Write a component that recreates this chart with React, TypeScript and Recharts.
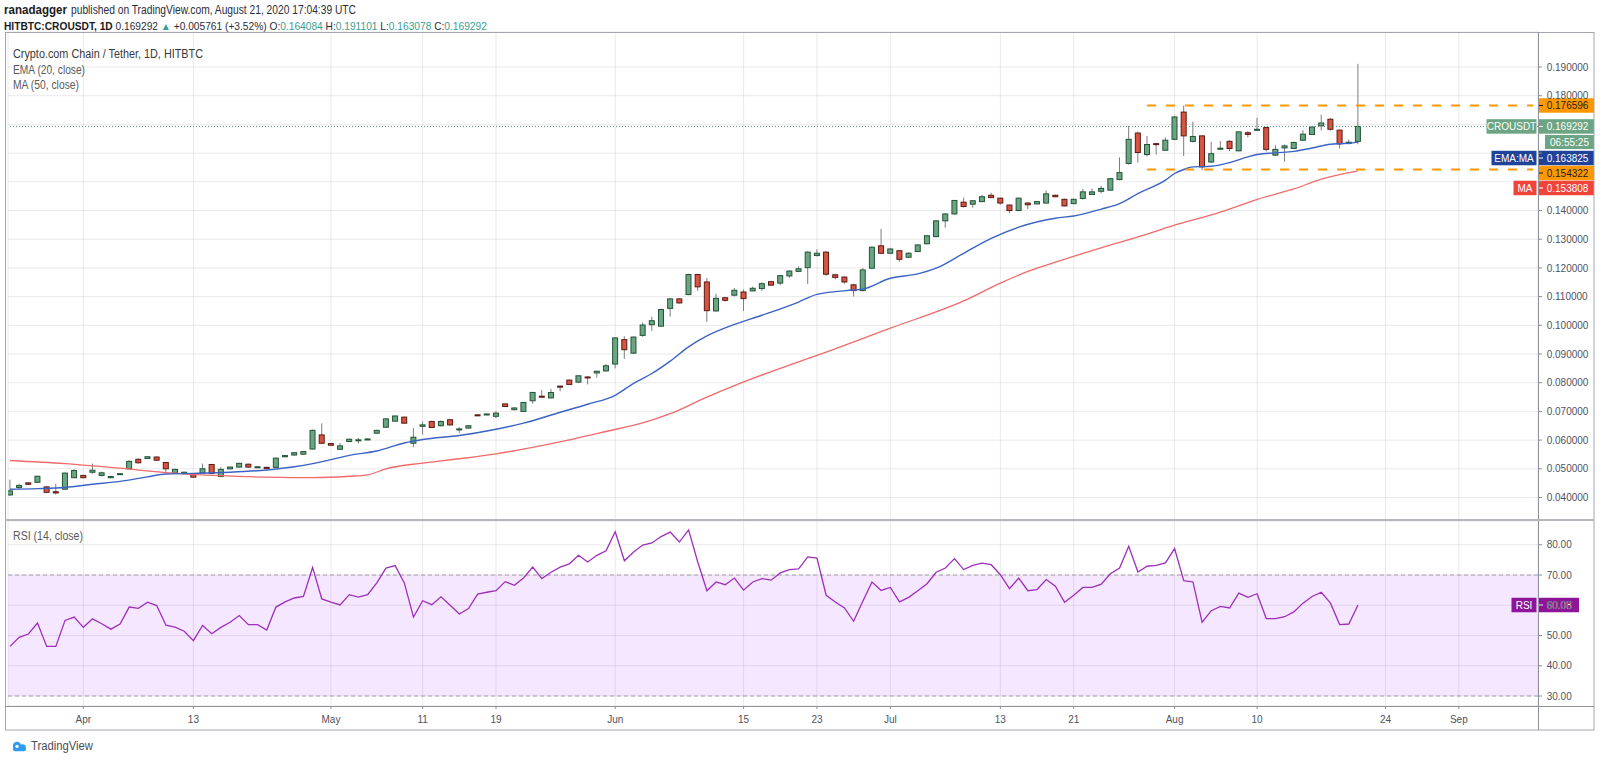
import React from 'react';
import {
  ComposedChart,
  Bar,
  Line,
  XAxis,
  YAxis,
  CartesianGrid,
  ReferenceLine,
  ReferenceArea,
} from 'recharts';

// ---------- DATA ----------
const OPEN = [
  0.0409, 0.0435, 0.0451, 0.0453, 0.0437, 0.042, 0.0429, 0.0469, 0.0477, 0.0488,
  0.0477, 0.0469, 0.048, 0.05, 0.0533, 0.0536, 0.0541, 0.0522, 0.0485, 0.0483,
  0.0483, 0.0485, 0.0515, 0.0473, 0.05, 0.0506, 0.0516, 0.0506, 0.0505, 0.0505,
  0.0542, 0.0548, 0.0551, 0.0569, 0.0618, 0.0588, 0.0568, 0.0595, 0.0598, 0.0602,
  0.0624, 0.0645, 0.0666, 0.068, 0.0589, 0.0648, 0.0665, 0.065, 0.0671, 0.0637,
  0.0642, 0.0688, 0.0689, 0.0683, 0.0726, 0.0706, 0.07, 0.0737, 0.0753, 0.0747,
  0.0788, 0.0809, 0.0802, 0.082, 0.0834, 0.0841, 0.0865, 0.095, 0.0903, 0.0965,
  0.1002, 0.0997, 0.1059, 0.1092, 0.1107, 0.1177, 0.1151, 0.105, 0.1096, 0.1105,
  0.1116, 0.112, 0.1128, 0.1152, 0.1147, 0.1172, 0.1188, 0.1201, 0.1243, 0.1255,
  0.1176, 0.1168, 0.1141, 0.1121, 0.1199, 0.1277, 0.1251, 0.126, 0.1237, 0.1257,
  0.1284, 0.1309, 0.1364, 0.1388, 0.1429, 0.1422, 0.1431, 0.1453, 0.1443, 0.1419,
  0.14, 0.1426, 0.1423, 0.1426, 0.1453, 0.1439, 0.1424, 0.1442, 0.1456, 0.1467,
  0.1471, 0.1508, 0.1564, 0.167, 0.1595, 0.1633, 0.161, 0.1648, 0.1743, 0.1641,
  0.166, 0.1569, 0.1615, 0.1641, 0.1608, 0.1671, 0.1681, 0.1689, 0.1593, 0.1618,
  0.1616, 0.1645, 0.1665, 0.1695, 0.1718, 0.168, 0.1634, 0.164084,
];
const HIGH = [
  0.0462, 0.0448, 0.0454, 0.0476, 0.044, 0.0448, 0.0487, 0.0499, 0.0479, 0.0518,
  0.049, 0.0476, 0.0485, 0.053, 0.0537, 0.0544, 0.0543, 0.0524, 0.05, 0.049,
  0.0485, 0.0518, 0.0517, 0.0506, 0.0508, 0.0521, 0.0518, 0.0509, 0.0507, 0.0539,
  0.0548, 0.0558, 0.0562, 0.0637, 0.0658, 0.059, 0.059, 0.0605, 0.0608, 0.0606,
  0.0636, 0.0676, 0.0686, 0.0682, 0.0642, 0.0665, 0.0668, 0.0668, 0.0673, 0.0645,
  0.0652, 0.069, 0.0692, 0.07, 0.0728, 0.0714, 0.0733, 0.0768, 0.0775, 0.0778,
  0.079, 0.0811, 0.0826, 0.0822, 0.0842, 0.0865, 0.0958, 0.0962, 0.0961, 0.101,
  0.103, 0.1058, 0.1095, 0.1094, 0.118, 0.1179, 0.1165, 0.111, 0.1099, 0.113,
  0.1125, 0.1135, 0.115, 0.1155, 0.1175, 0.1192, 0.1205, 0.1258, 0.1265, 0.1258,
  0.118, 0.1172, 0.1145, 0.12, 0.1275, 0.1336, 0.127, 0.1263, 0.1255, 0.1282,
  0.1314, 0.1366, 0.139, 0.1437, 0.1445, 0.1436, 0.1455, 0.1462, 0.1445, 0.1421,
  0.1445, 0.143, 0.1433, 0.147, 0.1456, 0.1441, 0.1441, 0.1475, 0.1477, 0.1485,
  0.1513, 0.1585, 0.1695, 0.1675, 0.166, 0.1636, 0.1655, 0.173, 0.1766, 0.171,
  0.1662, 0.164, 0.1642, 0.1645, 0.1676, 0.1677, 0.1723, 0.1691, 0.1627, 0.163,
  0.164, 0.168, 0.1692, 0.1734, 0.1722, 0.1682, 0.1647, 0.191101,
];
const LOW = [
  0.0405, 0.0427, 0.0444, 0.0451, 0.0416, 0.041, 0.0427, 0.0467, 0.0467, 0.0483,
  0.0473, 0.0467, 0.0479, 0.0498, 0.0518, 0.0534, 0.0528, 0.0485, 0.0483, 0.0481,
  0.0469, 0.0483, 0.0482, 0.0471, 0.0498, 0.0504, 0.0504, 0.0504, 0.0502, 0.0503,
  0.054, 0.0546, 0.0549, 0.0567, 0.0586, 0.058, 0.0566, 0.0593, 0.0588, 0.06,
  0.0622, 0.0643, 0.0664, 0.0657, 0.0575, 0.0619, 0.0642, 0.0648, 0.065, 0.0625,
  0.064, 0.0685, 0.0687, 0.0677, 0.0715, 0.0704, 0.0698, 0.0727, 0.0748, 0.0745,
  0.077, 0.0792, 0.08, 0.0794, 0.0818, 0.0839, 0.085, 0.0883, 0.09, 0.096,
  0.098, 0.0995, 0.103, 0.1076, 0.1105, 0.112, 0.1012, 0.1048, 0.1082, 0.11,
  0.105, 0.1118, 0.112, 0.1138, 0.114, 0.1165, 0.1185, 0.1144, 0.124, 0.1172,
  0.116, 0.1145, 0.11, 0.1118, 0.1195, 0.1248, 0.1248, 0.1222, 0.1235, 0.1255,
  0.1282, 0.1307, 0.134, 0.1386, 0.141, 0.141, 0.1429, 0.1443, 0.142, 0.139,
  0.1398, 0.1405, 0.1421, 0.1424, 0.1446, 0.1414, 0.1422, 0.1438, 0.1454, 0.146,
  0.1469, 0.1505, 0.156, 0.1567, 0.1588, 0.1595, 0.1608, 0.1646, 0.159, 0.1637,
  0.154, 0.1565, 0.1612, 0.1607, 0.1606, 0.1655, 0.1679, 0.1605, 0.159, 0.157,
  0.1614, 0.1643, 0.1663, 0.1679, 0.1678, 0.1616, 0.163, 0.163078,
];
const CLOSE = [
  0.0423, 0.0442, 0.0446, 0.0474, 0.0418, 0.0416, 0.0485, 0.0494, 0.0469, 0.0495,
  0.0486, 0.0473, 0.0483, 0.0526, 0.0521, 0.0542, 0.053, 0.05, 0.0498, 0.0488,
  0.0471, 0.05, 0.0484, 0.0498, 0.0506, 0.0519, 0.0506, 0.0507, 0.0503, 0.0537,
  0.0546, 0.0556, 0.056, 0.0634, 0.0589, 0.0582, 0.058, 0.0603, 0.0601, 0.0604,
  0.0634, 0.0674, 0.0684, 0.0659, 0.061, 0.0653, 0.0644, 0.0665, 0.0653, 0.0639,
  0.065, 0.0686, 0.0691, 0.0694, 0.0717, 0.0712, 0.0731, 0.0766, 0.0751, 0.0766,
  0.0786, 0.0794, 0.0824, 0.0818, 0.084, 0.0859, 0.0956, 0.0915, 0.0959, 0.1001,
  0.1016, 0.1055, 0.1092, 0.1078, 0.1177, 0.1134, 0.1051, 0.1094, 0.1087, 0.1122,
  0.1093, 0.1129, 0.1145, 0.114, 0.1173, 0.1189, 0.1197, 0.1255, 0.1251, 0.1178,
  0.1167, 0.1151, 0.1121, 0.1193, 0.1272, 0.1251, 0.1266, 0.123, 0.1251, 0.128,
  0.1312, 0.1364, 0.1388, 0.1435, 0.1414, 0.1434, 0.1448, 0.1445, 0.1426, 0.14,
  0.1443, 0.142, 0.1431, 0.1458, 0.1448, 0.1416, 0.1439, 0.1465, 0.1465, 0.1477,
  0.1511, 0.1532, 0.1648, 0.1602, 0.163, 0.163, 0.1645, 0.1726, 0.166, 0.1658,
  0.1552, 0.1598, 0.1617, 0.1616, 0.1674, 0.1665, 0.1683, 0.1613, 0.1613, 0.1625,
  0.1637, 0.1666, 0.1691, 0.1705, 0.1683, 0.1632, 0.1638, 0.169292,
];
// EMA(20) readings: [bar index, value]
const EMA_PTS: [number, number][] = [
  [0, 0.0429], [3, 0.0431], [6, 0.0435], [9, 0.0446], [12, 0.0456], [15, 0.0472],
  [17, 0.0482], [20, 0.0484], [24, 0.0488], [28, 0.0496], [31, 0.0507], [33, 0.0518],
  [35, 0.0532], [37, 0.0547], [40, 0.0562], [43, 0.059], [45, 0.0602], [49, 0.0616],
  [53, 0.0638], [56, 0.0659], [60, 0.0697], [63, 0.0725], [66, 0.0756], [68, 0.0798],
  [70, 0.0832], [72, 0.0875], [74, 0.0925], [76, 0.0963], [79, 0.1003], [82, 0.1035],
  [86, 0.1081], [88, 0.1108], [92, 0.1123], [93, 0.1126], [96, 0.1164], [99, 0.1179],
  [101, 0.1199], [104, 0.1251], [107, 0.1303], [110, 0.1342], [114, 0.1373], [116, 0.1381],
  [119, 0.1405], [121, 0.1424], [123, 0.1459], [126, 0.1506], [127, 0.1529], [128, 0.1543],
  [129, 0.1552], [131, 0.1554], [133, 0.1567], [135, 0.1587], [136, 0.1595], [138, 0.1601],
  [140, 0.1606], [142, 0.1618], [144, 0.1631], [145, 0.1633], [146, 0.1634], [147, 0.163825],
];
// MA(50) readings: [bar index, value]
const MA_PTS: [number, number][] = [
  [0, 0.0529], [6, 0.0518], [12, 0.0502], [17, 0.0487], [23, 0.0476], [28, 0.0471],
  [33, 0.0469], [37, 0.0474], [39, 0.0479], [41, 0.05], [45, 0.052], [49, 0.0535],
  [53, 0.0552], [57, 0.0575], [61, 0.0601], [65, 0.063], [69, 0.066], [72, 0.0692],
  [76, 0.075], [79, 0.079], [84, 0.085], [88, 0.0895], [96, 0.099], [104, 0.1085],
  [108, 0.1147], [111, 0.1188], [114, 0.122], [119, 0.127], [124, 0.1318], [127, 0.1349],
  [132, 0.1394], [136, 0.1439], [140, 0.1475], [143, 0.1509], [147, 0.153808],
];
const RSI = [
  46.4, 49.4, 50.5, 54.1, 46.4, 46.4, 55.0, 56.1, 52.7, 55.5,
  53.9, 52.1, 53.8, 59.4, 59.0, 61.0, 59.9, 53.4, 52.8, 51.4,
  48.3, 53.3, 50.6, 52.7, 54.4, 56.6, 53.6, 53.6, 51.8, 59.4,
  61.1, 62.4, 62.9, 72.5, 62.1, 61.0, 60.1, 63.5, 62.7, 63.5,
  67.4, 72.3, 73.1, 67.4, 56.1, 61.5, 60.2, 62.8, 60.0, 57.1,
  58.9, 63.7, 64.3, 64.8, 67.8, 66.6, 69.0, 72.6, 68.8, 70.9,
  72.6, 73.7, 76.5, 74.3, 76.5, 78.0, 84.3, 74.7, 77.6, 79.9,
  80.6, 82.7, 84.2, 80.9, 84.9, 74.3, 64.8, 67.7, 66.8, 69.0,
  65.0, 67.7, 68.8, 68.3, 70.7, 71.8, 72.0, 76.0, 75.6, 63.3,
  61.1, 59.1, 54.7, 61.3, 67.7, 64.9, 65.9, 61.1, 62.6, 64.8,
  67.1, 70.9, 72.3, 75.4, 71.8, 73.2, 73.9, 73.4, 70.1, 65.5,
  69.0, 64.8, 65.2, 68.5, 66.3, 61.0, 63.3, 65.9, 65.9, 67.0,
  70.4, 72.3, 79.5, 71.0, 72.9, 73.2, 74.0, 78.7, 68.1, 67.7,
  54.4, 58.2, 59.6, 59.1, 64.0, 62.6, 63.8, 55.6, 55.6, 56.2,
  57.8, 60.7, 62.9, 64.3, 60.7, 53.6, 53.8, 60.08,
];
const TICK_IDX = [8, 20, 35, 45, 53, 66, 80, 88, 96, 108, 116, 127, 136, 150, 158];
const TICK_LABELS = ['Apr', '13', 'May', '11', '19', 'Jun', '15', '23', 'Jul', '13', '21', 'Aug', '10', '24', 'Sep'];
const PRICE_TICKS = [0.04, 0.05, 0.06, 0.07, 0.08, 0.09, 0.1, 0.11, 0.12, 0.13, 0.14, 0.15, 0.16, 0.17, 0.18, 0.19];
const RSI_TICKS = [30, 40, 50, 60, 70, 80];
const RANGE_TOP = 0.176596;
const RANGE_BOTTOM = 0.154322;
const RANGE_START_IDX = 124;
const RANGE_END_IDX = 166.1;
const LAST_PRICE = 0.169292;
const LAST_EMA = 0.163825;
const LAST_MA = 0.153808;
const LAST_RSI = 60.08;

// ---------- build table ----------
const emaMap = new Map<number, number>(EMA_PTS);
const maMap = new Map<number, number>(MA_PTS);
const rows = OPEN.map((o, i) => ({
  i,
  o,
  h: HIGH[i],
  l: LOW[i],
  c: CLOSE[i],
  rsi: RSI[i],
  ema: emaMap.has(i) ? emaMap.get(i) : null,
  ma: maMap.has(i) ? maMap.get(i) : null,
}));

const FONT = '"Liberation Sans", Arial, sans-serif';
const UP = '#6ba583';
const UP_BORDER = '#225437';
const DOWN = '#d75442';
const DOWN_BORDER = '#5b1a13';
const WICK = '#7d7d80';
const AXIS_TEXT = '#50535e';
const GRID = 'rgba(0,0,0,0.085)';
const ORANGE = '#ff9800';
const X_DOMAIN: [number, number] = [-0.218, 166.63];

// ---------- shapes ----------
const Candle = (props: any) => {
  const { x, y, width, height } = props;
  const p = props.payload || props;
  const { o, h, l, c } = p;
  if (x == null || y == null) return null;
  const top = Math.min(y, y + height);
  const bot = Math.max(y, y + height);
  const span = h - l;
  const py = (v: number) => (span > 0 ? top + ((h - v) / span) * (bot - top) : top);
  const cx = x + width / 2;
  const up = c >= o;
  const yo = py(o);
  const yc = py(c);
  const bTop = Math.min(yo, yc);
  const bH = Math.max(Math.abs(yo - yc), 1);
  return (
    <g>
      <line x1={cx} x2={cx} y1={top} y2={bot} stroke={WICK} strokeWidth={1} />
      <rect
        x={cx - 2.5}
        y={bTop}
        width={5}
        height={bH}
        fill={up ? UP : DOWN}
        stroke={up ? UP_BORDER : DOWN_BORDER}
        strokeWidth={1}
      />
    </g>
  );
};

const TagLabel = (props: any) => {
  const { viewBox, text, bg, fg = '#fff', dy = 0, left, leftW = 0, boxW = 55, countdown } = props;
  if (!viewBox) return null;
  const xr = viewBox.x + viewBox.width;
  const cy = viewBox.y + dy;
  const h = 14.5;
  return (
    <g style={{ fontFamily: FONT }}>
      {left ? (
        <g>
          <rect x={xr - 1.5 - leftW} y={cy - h / 2} width={leftW} height={h} fill={bg} />
          <text x={xr - 1.5 - leftW / 2} y={cy + 3.6} textAnchor="middle" fontSize={10} fill={fg}>
            {left}
          </text>
        </g>
      ) : null}
      <rect x={xr + 1} y={cy - h / 2} width={boxW} height={h} fill={bg} />
      <line x1={xr + 1} x2={xr + 5} y1={cy} y2={cy} stroke={fg} strokeWidth={1} />
      <text x={xr + 8.7} y={cy + 3.6} fontSize={10} fill={fg}>
        {text}
      </text>
      {countdown ? (
        <g>
          <rect x={xr + 7} y={cy + 8.6} width={49} height={14} fill={bg} />
          <text x={xr + 31.5} y={cy + 19.2} textAnchor="middle" fontSize={10} fill={fg}>
            {countdown}
          </text>
        </g>
      ) : null}
    </g>
  );
};

const HIDDEN_PRICE_LABELS = new Set(['0.150000', '0.160000', '0.170000']);
const PriceTick = (props: any) => {
  const { x, y, payload } = props;
  const s = Number(payload.value).toFixed(6);
  if (HIDDEN_PRICE_LABELS.has(s)) return null;
  return (
    <text x={x} y={y + 3.6} fontSize={10} fill={AXIS_TEXT} style={{ fontFamily: FONT }}>
      {s}
    </text>
  );
};
const RsiTick = (props: any) => {
  const { x, y, payload } = props;
  return (
    <text x={x} y={y + 3.6} fontSize={10} fill={AXIS_TEXT} style={{ fontFamily: FONT }}>
      {Number(payload.value).toFixed(2)}
    </text>
  );
};
const TimeTick = (props: any) => {
  const { x, y, payload } = props;
  const k = TICK_IDX.indexOf(payload.value);
  return (
    <text x={x} y={y + 7.1} textAnchor="middle" fontSize={10} fill={AXIS_TEXT} style={{ fontFamily: FONT }}>
      {k >= 0 ? TICK_LABELS[k] : ''}
    </text>
  );
};

const T = (p: any) => (
  <text
    x={p.x}
    y={p.y}
    fontSize={p.size || 12}
    fill={p.fill || '#2a2e39'}
    fontWeight={p.weight || 'normal'}
    textLength={p.w}
    lengthAdjust="spacingAndGlyphs"
  >
    {p.children}
  </text>
);

export default function App() {
  const TEAL = '#3a9e8f';
  return (
    <div
      style={{
        position: 'absolute',
        left: 0,
        top: 0,
        width: 1600,
        height: 763,
        background: '#ffffff',
        fontFamily: FONT,
        overflow: 'hidden',
      }}
    >
      {/* main price pane */}
      <div style={{ position: 'absolute', left: 0, top: 0 }}>
        <ComposedChart
          width={1600}
          height={520}
          data={rows}
          margin={{ top: 32, right: 0, bottom: 0, left: 8 }}
        >
          <CartesianGrid stroke={GRID} strokeWidth={1} />
          <XAxis
            type="number"
            dataKey="i"
            domain={X_DOMAIN}
            ticks={TICK_IDX}
            allowDataOverflow
            hide
          />
          <YAxis
            orientation="right"
            width={62}
            domain={[0.03216, 0.2022]}
            ticks={PRICE_TICKS}
            allowDataOverflow
            axisLine={false}
            tickSize={4}
            tickMargin={4.7}
            tickLine={{ stroke: '#8a8d96' }}
            tick={<PriceTick />}
            interval={0}
          />
          <Line
            dataKey="ma"
            type="monotone"
            stroke="#f26a6a"
            strokeWidth={1.3}
            dot={false}
            connectNulls
            isAnimationActive={false}
          />
          <Line
            dataKey="ema"
            type="monotone"
            stroke="#3a63c4"
            strokeWidth={1.4}
            dot={false}
            connectNulls
            isAnimationActive={false}
          />
          <Bar
            dataKey={(d: any) => [d.l, d.h]}
            barSize={7}
            shape={(p: any) => <Candle {...p} />}
            isAnimationActive={false}
          />
          <ReferenceLine
            segment={[
              { x: RANGE_START_IDX, y: RANGE_TOP },
              { x: RANGE_END_IDX, y: RANGE_TOP },
            ]}
            stroke={ORANGE}
            strokeWidth={2}
            strokeDasharray="9 10"
          />
          <ReferenceLine
            segment={[
              { x: RANGE_START_IDX, y: RANGE_BOTTOM },
              { x: RANGE_END_IDX, y: RANGE_BOTTOM },
            ]}
            stroke={ORANGE}
            strokeWidth={2}
            strokeDasharray="9 10"
          />
          <ReferenceLine
            y={LAST_PRICE}
            stroke="#4f9a74"
            strokeDasharray="1 2"
            strokeWidth={1}
            label={<TagLabel text={LAST_PRICE.toFixed(6)} bg="#6ba583" left="CROUSDT" leftW={50} countdown="06:55:25" />}
          />
          <ReferenceLine
            y={RANGE_TOP}
            stroke="none"
            label={<TagLabel text={RANGE_TOP.toFixed(6)} bg={ORANGE} fg="#1c1c1c" />}
          />
          <ReferenceLine
            y={LAST_EMA}
            stroke="none"
            label={<TagLabel text={LAST_EMA.toFixed(6)} bg="#1f4399" left="EMA:MA" leftW={45} dy={15.9} />}
          />
          <ReferenceLine
            y={RANGE_BOTTOM}
            stroke="none"
            label={<TagLabel text={RANGE_BOTTOM.toFixed(6)} bg={ORANGE} fg="#1c1c1c" dy={3.6} />}
          />
          <ReferenceLine
            y={LAST_MA}
            stroke="none"
            label={<TagLabel text={LAST_MA.toFixed(6)} bg="#f0433a" left="MA" leftW={23} dy={17.1} />}
          />
        </ComposedChart>
      </div>

      {/* RSI pane */}
      <div style={{ position: 'absolute', left: 0, top: 520 }}>
        <ComposedChart
          width={1600}
          height={210}
          data={rows}
          margin={{ top: 1, right: 0, bottom: 0, left: 8 }}
        >
          <ReferenceArea y1={30} y2={70} fill="#9915ff" fillOpacity={0.1} stroke="none" />
          <CartesianGrid stroke={GRID} strokeWidth={1} />
          <XAxis
            type="number"
            dataKey="i"
            domain={X_DOMAIN}
            ticks={TICK_IDX}
            allowDataOverflow
            height={24}
            axisLine={false}
            tickSize={3}
            tickMargin={6.5}
            tickLine={{ stroke: '#8a8d96' }}
            tick={<TimeTick />}
            interval={0}
          />
          <YAxis
            orientation="right"
            width={62}
            domain={[26.7, 87.85]}
            ticks={RSI_TICKS}
            allowDataOverflow
            axisLine={false}
            tickSize={4}
            tickMargin={4.7}
            tickLine={{ stroke: '#8a8d96' }}
            tick={<RsiTick />}
            interval={0}
          />
          <ReferenceLine y={70} stroke="#a3a3a3" strokeDasharray="4 3" />
          <ReferenceLine y={30} stroke="#a3a3a3" strokeDasharray="4 3" />
          <Line
            dataKey="rsi"
            type="linear"
            stroke="#9d2fba"
            strokeWidth={1.3}
            dot={false}
            isAnimationActive={false}
          />
          <ReferenceLine
            y={LAST_RSI}
            stroke="none"
            label={<TagLabel text={LAST_RSI.toFixed(2)} bg="#8e1599" left="RSI" leftW={25} boxW={40} />}
          />
        </ComposedChart>
      </div>

      {/* frame, headers and legends */}
      <svg
        width={1600}
        height={763}
        style={{ position: 'absolute', left: 0, top: 0, pointerEvents: 'none', fontFamily: FONT }}
      >
        <T x={4} y={14} w={63} weight="bold" fill="#1b1b1b">ranadagger</T>
        <T x={71} y={14} w={285}>published on TradingView.com, August 21, 2020 17:04:39 UTC</T>
        <text x={4} y={30} fontSize={10.2} fill="#2a2e39">
          <tspan fontWeight="bold" fill="#1b1b1b">HITBTC:CROUSDT, 1D</tspan>
          <tspan> 0.169292 </tspan>
          <tspan fill={TEAL}>▲</tspan>
          <tspan> +0.005761 (+3.52%) O:</tspan>
          <tspan fill={TEAL}>0.164084</tspan>
          <tspan> H:</tspan>
          <tspan fill={TEAL}>0.191101</tspan>
          <tspan> L:</tspan>
          <tspan fill={TEAL}>0.163078</tspan>
          <tspan> C:</tspan>
          <tspan fill={TEAL}>0.169292</tspan>
        </text>

        <T x={13} y={58} w={190} fill="#3a3a3a">Crypto.com Chain / Tether, 1D, HITBTC</T>
        <T x={13} y={74} w={72} fill="#5a5a5a">EMA (20, close)</T>
        <T x={13} y={89} w={66} fill="#5a5a5a">MA (50, close)</T>
        <T x={13} y={540} w={70} fill="#5a5a5a">RSI (14, close)</T>

        {/* frame */}
        <rect x={5.5} y={32.5} width={1588.5} height={697.5} fill="none" stroke="#a3a6af" strokeWidth={1} />
        <line x1={1538.5} x2={1538.5} y1={32} y2={730} stroke="#8f929b" strokeWidth={1} />
        <line x1={5} x2={1594} y1={520} y2={520} stroke="#b5b7bd" strokeWidth={2} />
        <line x1={5} x2={1594} y1={706.5} y2={706.5} stroke="#8f929b" strokeWidth={1} />

        {/* TradingView logo */}
        <g>
          <circle cx={17} cy={746} r={4.2} fill="#2d9cf2" />
          <circle cx={22.5} cy={747.5} r={3.2} fill="#2d9cf2" />
          <rect x={13} y={747} width={13} height={4.2} rx={2} fill="#2d9cf2" />
          <circle cx={17} cy={746.3} r={1.6} fill="#fff" />
        </g>
        <T x={31} y={750} w={62} size={12} fill="#4a4d57">TradingView</T>
      </svg>
    </div>
  );
}
